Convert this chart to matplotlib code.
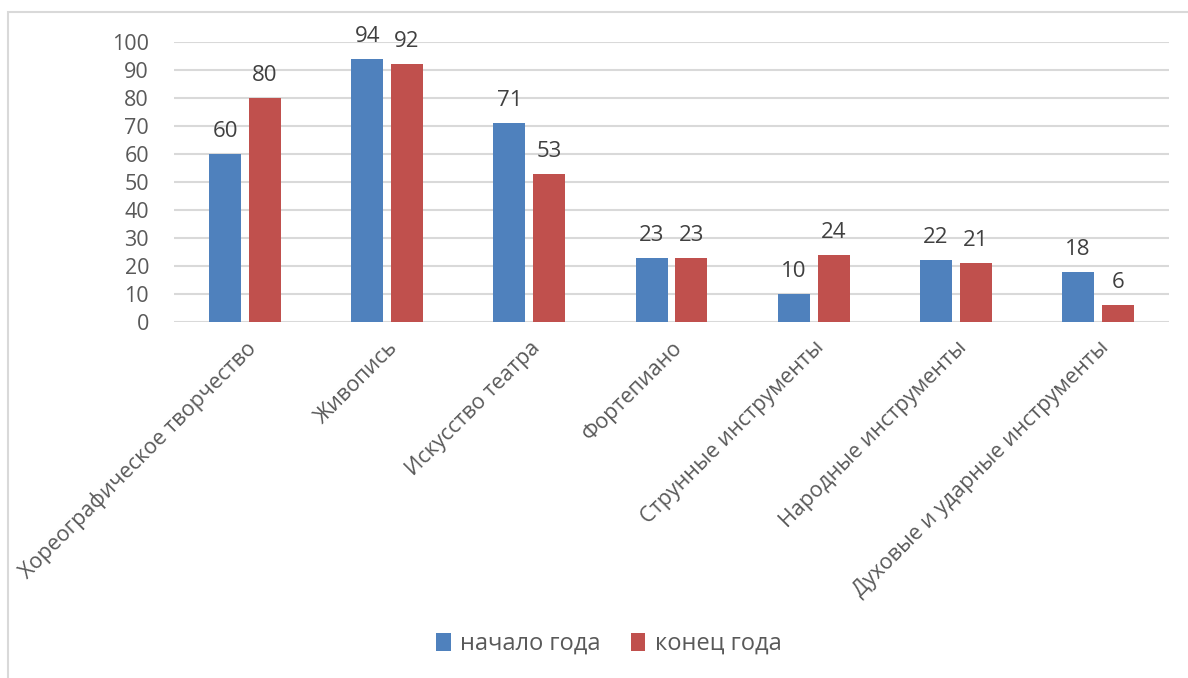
import matplotlib.pyplot as plt
import matplotlib.patches as mpatches
import numpy as np

categories = ["Хореографическое творчество", "Живопись", "Искусство театра", "Фортепиано",
              "Струнные инструменты", "Народные инструменты", "Духовые и ударные инструменты"]
start_year = [60, 94, 71, 23, 10, 22, 18]
end_year = [80, 92, 53, 23, 24, 21, 6]

plt.rcParams['font.family'] = ['Open Sans', 'DejaVu Sans']

fig = plt.figure(figsize=(11.88, 6.78), dpi=100)
ax = fig.add_axes([174/1188, 1 - 322/678, (1169 - 174)/1188, (322 - 42)/678])

x = np.arange(len(categories))
bar_width = 0.225
off = 0.14
bars1 = ax.bar(x - off, start_year, width=bar_width, color="#4F81BD", label="начало года", zorder=3)
bars2 = ax.bar(x + off, end_year, width=bar_width, color="#C0504D", label="конец года", zorder=3)

for bars in (bars1, bars2):
    for b in bars:
        ax.text(b.get_x() + b.get_width()/2, b.get_height() + 4.3, str(int(b.get_height())),
                ha="center", va="bottom", fontsize=16, color="#404040")

ax.set_xlim(-0.5, len(categories) - 0.5)
ax.set_ylim(0, 100)
ax.set_yticks(np.arange(0, 101, 10))
ax.yaxis.grid(True, color="#D9D9D9", linewidth=1.5, zorder=0)
ax.set_axisbelow(True)
for s in ax.spines.values():
    s.set_visible(False)
ax.tick_params(axis="y", length=0, pad=18, labelsize=15.5, labelcolor="#595959")
ax.tick_params(axis="x", length=0, pad=11, labelsize=15.5, labelcolor="#595959")
ax.set_xticks(x)
ax.set_xticklabels(categories, rotation=45, ha="right", rotation_mode="anchor")

fig.legend(handles=[bars1, bars2], loc="center", bbox_to_anchor=(609/1188, 1 - 644/678),
           ncol=2, frameon=False, fontsize=17, handlelength=0.6, handleheight=0.8,
           columnspacing=1.3, handletextpad=0.4, labelcolor="#595959")

fig.patches.append(mpatches.Rectangle((8/1188, -0.1), 1.2, 1.1 - 12/678, transform=fig.transFigure,
                                      fill=False, edgecolor="#D9D9D9", linewidth=1.5))

fig.savefig("out.png", dpi=100)
